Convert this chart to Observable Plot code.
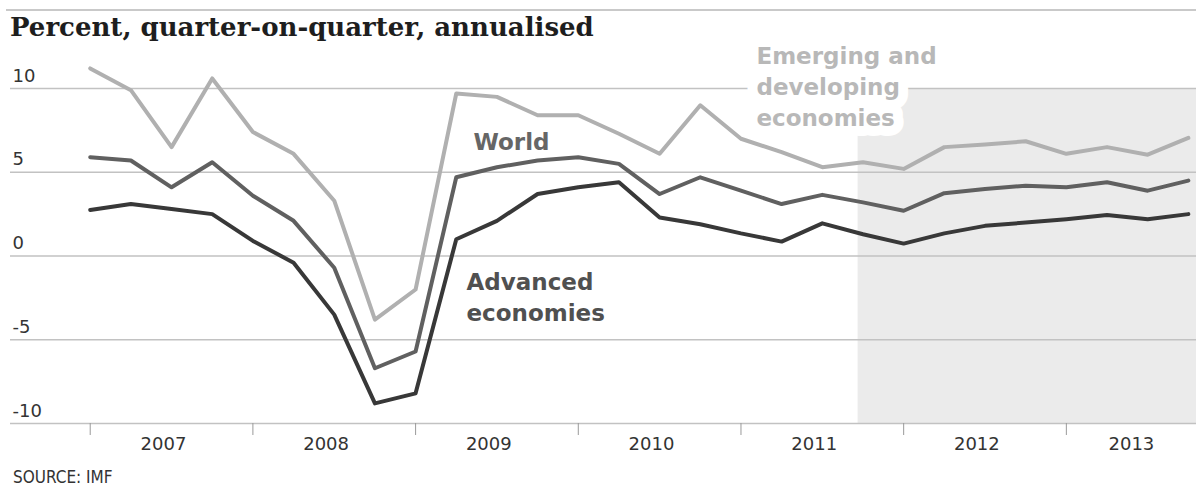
<!DOCTYPE html>
<html>
<head>
<meta charset="utf-8">
<script src="https://cdn.jsdelivr.net/npm/d3@7"></script>
<script src="https://cdn.jsdelivr.net/npm/@observablehq/plot@0.6"></script>
<style>
  html, body { margin: 0; padding: 0; background: #fff; }
  #wrap { position: relative; width: 1196px; height: 489px; overflow: hidden; }
  #rule { position: absolute; left: 6px; right: 0; top: 9px; border-top: 2px solid #c9c9c9; }
  #title { position: absolute; left: 10px; top: 12px; font-family: "DejaVu Serif", serif; font-weight: bold; font-size: 26px; line-height: 30px; color: #1e1e1e; white-space: nowrap; }
  #chart { position: absolute; left: 0; top: 40px; }
  #source { position: absolute; left: 13px; top: 469px; font-family: "DejaVu Sans Condensed", "Liberation Sans Narrow", "Roboto", sans-serif; font-size: 17px; line-height: 17px; color: #333; }
</style>
</head>
<body>
<div id="wrap">
  <div id="rule"></div>
  <div id="title">Percent, quarter-on-quarter, annualised</div>
  <div id="chart"></div>
  <div id="source">SOURCE: IMF</div>
</div>
<script>
// ---- data ----
const quarters = [
  "2007 Q1","2007 Q2","2007 Q3","2007 Q4",
  "2008 Q1","2008 Q2","2008 Q3","2008 Q4",
  "2009 Q1","2009 Q2","2009 Q3","2009 Q4",
  "2010 Q1","2010 Q2","2010 Q3","2010 Q4",
  "2011 Q1","2011 Q2","2011 Q3","2011 Q4",
  "2012 Q1","2012 Q2","2012 Q3","2012 Q4",
  "2013 Q1","2013 Q2","2013 Q3","2013 Q4"
];
const emerging = [11.2, 9.9, 6.5, 10.6, 7.4, 6.1, 3.3, -3.8, -2.0, 9.7, 9.5, 8.4, 8.4, 7.3, 6.1, 9.0, 7.0, 6.2, 5.3, 5.6, 5.2, 6.5, 6.65, 6.85, 6.1, 6.5, 6.05, 7.05];
const world    = [5.9, 5.7, 4.1, 5.6, 3.6, 2.1, -0.7, -6.7, -5.7, 4.7, 5.3, 5.7, 5.9, 5.5, 3.7, 4.7, 3.9, 3.1, 3.65, 3.2, 2.7, 3.75, 4.0, 4.2, 4.1, 4.4, 3.9, 4.5];
const advanced = [2.75, 3.1, 2.8, 2.5, 0.9, -0.4, -3.5, -8.8, -8.2, 1.0, 2.1, 3.7, 4.1, 4.4, 2.3, 1.9, 1.35, 0.86, 1.95, 1.3, 0.74, 1.35, 1.8, 2.0, 2.2, 2.45, 2.2, 2.5];
const seriesNames = ["Emerging and developing economies", "World", "Advanced economies"];
const yTicks = [-10, -5, 0, 5, 10];
const yearTicks = [2007, 2008, 2009, 2010, 2011, 2012, 2013];
const forecastStart = 2011.72;

// ---- build ----
const xDomain = [2006.51, 2013.80];
const toYear = q => +q.slice(0, 4) + (+q.slice(-1) - 1) / 4;
const seriesValues = [emerging, world, advanced];
const rows = [];
seriesNames.forEach((name, s) => quarters.forEach((q, i) => rows.push({series: name, t: toYear(q), v: seriesValues[s][i]})));
const colors = {"Emerging and developing economies": "#b0b0b0", "World": "#606060", "Advanced economies": "#383838"};
const labelPos = yearTicks.map(y => Math.min(y + 0.45, (y + xDomain[1]) / 2));

const labels = [
  {text: "Emerging and\ndeveloping\neconomies", x: 2011.095, y: 7.77, fill: "#b8b8b8", halo: true},
  {text: "World", x: 2009.356, y: 6.32, fill: "#666666", halo: false},
  {text: "Advanced\neconomies", x: 2009.313, y: -3.89, fill: "#505050", halo: false}
];

const chart = Plot.plot({
  width: 1196,
  height: 415,
  marginLeft: 10,
  marginRight: 0,
  marginTop: 48,
  marginBottom: 32,
  style: {background: "transparent", fontFamily: "DejaVu Sans, sans-serif", fontSize: "18px", overflow: "visible"},
  x: {domain: xDomain, axis: null},
  y: {domain: [-10, 10], axis: null},
  marks: [
    Plot.rect([forecastStart], {x1: d => d, x2: () => xDomain[1], y1: () => -10, y2: () => 10, fill: "#ebebeb"}),
    Plot.ruleY(yTicks, {stroke: "#c2c2c2", strokeWidth: 1.5}),
    Plot.axisX({ticks: yearTicks, tickSize: 12, tickFormat: () => "", stroke: "#9a9a9a"}),
    Plot.axisX({ticks: labelPos, tickSize: 0, tickPadding: 14, tickFormat: d => String(Math.floor(d)), fontSize: 18, fill: "#333"}),
    Plot.axisY({ticks: yTicks, anchor: "left", tickSize: 0, tickPadding: 0, textAnchor: "start", dx: 2, dy: -7, lineAnchor: "bottom", tickFormat: d => String(d), fontSize: 18, fill: "#333"}),
    Plot.text(labels.filter(d => d.halo), {x: "x", y: "y", text: "text", textAnchor: "start", lineAnchor: "bottom", lineHeight: 1.35, fontSize: 23, fontWeight: "bold", fill: "white", stroke: "white", strokeWidth: 20, strokeLinejoin: "round"}),
    Plot.line(rows, {x: "t", y: "v", z: "series", stroke: d => colors[d.series], strokeWidth: 4, strokeLinejoin: "round", strokeLinecap: "round"}),
    Plot.text(labels, {x: "x", y: "y", text: "text", textAnchor: "start", lineAnchor: "bottom", lineHeight: 1.35, fontSize: 23, fontWeight: "bold", fill: d => d.fill})
  ]
});
document.getElementById("chart").appendChild(chart);
</script>
</body>
</html>
